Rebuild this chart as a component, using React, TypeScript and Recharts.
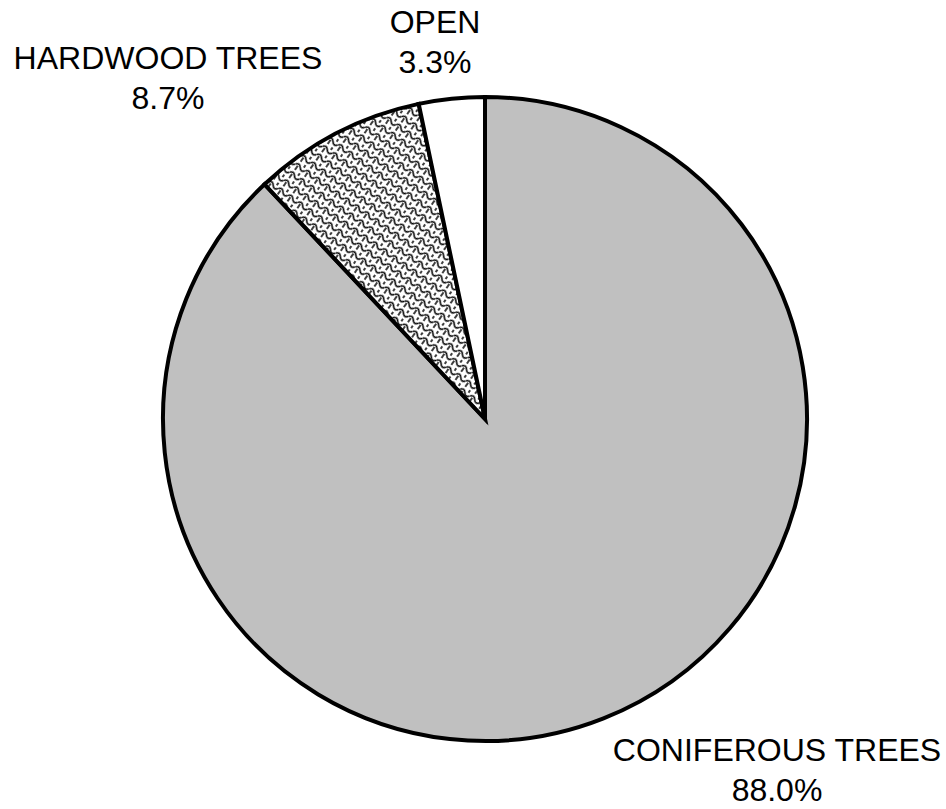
import { PieChart, Pie, Cell } from 'recharts'

const names = ['CONIFEROUS TREES', 'HARDWOOD TREES', 'OPEN']
const shares = [88.0, 8.7, 3.3]
const fills = ['#c0c0c0', 'url(#scales)', '#ffffff']

// where each label sits, relative to the pie centre
const labelOffsets: Record<string, { dx: number; dy: number }> = {
  'CONIFEROUS TREES': { dx: 292, dy: 342 },
  'HARDWOOD TREES': { dx: -317, dy: -350 },
  OPEN: { dx: -50, dy: -386 },
}

const data = names.map((name, i) => ({ name, value: shares[i] }))

function renderLabel(props: any) {
  const { cx, cy, name, value } = props
  const off = labelOffsets[name]
  const x = cx + off.dx
  const y = cy + off.dy
  return (
    <text
      x={x}
      y={y}
      textAnchor="middle"
      fill="#000"
      fontSize={32}
      fontFamily="'Liberation Sans', Arial, sans-serif"
    >
      <tspan x={x} dy={0}>{name}</tspan>
      <tspan x={x} dy={40}>{`${value.toFixed(1)}%`}</tspan>
    </text>
  )
}

export default function App() {
  return (
    <div style={{ position: 'absolute', left: 0, top: 0, background: '#fff' }}>
      <PieChart width={946} height={809} margin={{ top: 0, right: 0, bottom: 0, left: 0 }}>
        <defs>
          <pattern
            id="scales"
            width="12"
            height="10"
            patternUnits="userSpaceOnUse"
            patternTransform="rotate(35)"
          >
            <rect width="12" height="10" fill="#fff" />
            <path
              d="M0,5 Q3,1 6,5 T12,5 M3,5 L3,10 M9,0 L9,3"
              fill="none"
              stroke="#000"
              strokeWidth={1.5}
            />
          </pattern>
        </defs>
        <Pie
          data={data}
          dataKey="value"
          nameKey="name"
          cx={485}
          cy={419}
          outerRadius={322}
          startAngle={90}
          endAngle={-270}
          stroke="#000"
          strokeWidth={4}
          label={renderLabel}
          labelLine={false}
          isAnimationActive={false}
        >
          {data.map((d, i) => (
            <Cell key={d.name} fill={fills[i]} />
          ))}
        </Pie>
      </PieChart>
    </div>
  )
}
